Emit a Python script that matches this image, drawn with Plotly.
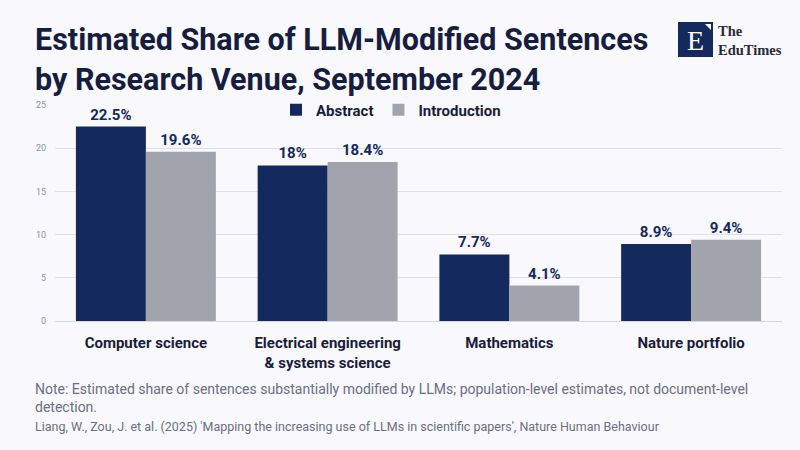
import plotly.graph_objects as go

categories = ["Computer science", "Electrical engineering<br>& systems science", "Mathematics", "Nature portfolio"]
abstract = [22.5, 18.0, 7.7, 8.9]
introduction = [19.6, 18.4, 4.1, 9.4]
y_ticks = [0, 5, 10, 15, 20, 25]

navy = "#142a5e"
grey = "#a2a4ad"
bg = "#f8f8fd"
font_family = "Roboto, Noto Sans, sans-serif"

def px_x(px):
    # screen pixel -> paper x (plot area 55..782)
    return (px - 55) / 727

def px_y(py):
    # screen pixel -> paper y (plot area 105..321)
    return (321 - py) / 216

fig = go.Figure()
fig.add_trace(go.Bar(
    x=categories, y=abstract, name="Abstract",
    marker=dict(color=navy, line=dict(width=0)),
    text=[f"{v:g}%" for v in abstract], textposition="outside",
    textfont=dict(family=font_family, size=15, color=navy, weight="bold"),
    cliponaxis=False,
))
fig.add_trace(go.Bar(
    x=categories, y=introduction, name="Introduction",
    marker=dict(color=grey, line=dict(width=0)),
    text=[f"{v:g}%" for v in introduction], textposition="outside",
    textfont=dict(family=font_family, size=15, color=navy, weight="bold"),
    cliponaxis=False,
))

fig.update_layout(
    width=800, height=450,
    paper_bgcolor=bg, plot_bgcolor=bg,
    margin=dict(l=55, r=18, t=105, b=129),
    barmode="group", bargap=0.23, bargroupgap=0,
    font=dict(family=font_family),
    showlegend=True,
    legend=dict(
        orientation="h", x=px_x(276), y=px_y(110), xanchor="left", yanchor="middle",
        font=dict(family=font_family, size=15, color="#1a1d3a", weight="bold"),
        bgcolor="rgba(0,0,0,0)", itemwidth=30,
    ),
)
fig.update_yaxes(
    range=[0, 25], tickvals=y_ticks, showgrid=True, gridcolor="#dedfe8", gridwidth=1,
    zeroline=True, zerolinecolor="#d6d7e0", zerolinewidth=1,
    tickfont=dict(family=font_family, size=9, color="#8c93ad"), ticks="", ticklabelstandoff=8,
)
fig.update_xaxes(
    tickfont=dict(family=font_family, size=15, color="#1a1d3a", weight="bold"),
    showline=False, ticks="", ticklabelstandoff=11,
)

# title
fig.add_annotation(xref="paper", yref="paper", x=px_x(33), y=px_y(20), xanchor="left", yanchor="top",
                   text="<b>Estimated Share of LLM-Modified Sentences<br>by Research Venue, September 2024</b>",
                   showarrow=False, align="left",
                   font=dict(family=font_family, size=30.5, color="#161d3f"))

# logo
fig.add_shape(type="rect", xref="paper", yref="paper", layer="below",
              x0=px_x(678), x1=px_x(713), y0=px_y(57), y1=px_y(22),
              fillcolor=navy, line=dict(width=0))
fig.add_shape(type="path", xref="paper", yref="paper",
              path=f"M {px_x(705)} {px_y(24)} L {px_x(711)} {px_y(24)} L {px_x(711)} {px_y(30)} Z",
              fillcolor="white", line=dict(width=0))
fig.add_annotation(xref="paper", yref="paper", x=px_x(695), y=px_y(40), xanchor="center", yanchor="middle",
                   text="E", showarrow=False,
                   font=dict(family="Liberation Serif, serif", size=28, color="white"))
fig.add_annotation(xref="paper", yref="paper", x=px_x(716), y=px_y(40), xanchor="left", yanchor="middle",
                   text="<b>The</b><br><b>EduTimes</b>", showarrow=False, align="left",
                   font=dict(family="Liberation Serif, serif", size=14.5, color="#2a2a35"))

# footer
fig.add_annotation(xref="paper", yref="paper", x=px_x(33), y=px_y(379), xanchor="left", yanchor="top",
                   text="Note: Estimated share of sentences substantially modified by LLMs; population-level estimates, not document-level<br>detection.",
                   showarrow=False, align="left",
                   font=dict(family=font_family, size=14, color="#6b6f80"))
fig.add_annotation(xref="paper", yref="paper", x=px_x(33), y=px_y(417), xanchor="left", yanchor="top",
                   text="Liang, W., Zou, J. et al. (2025) 'Mapping the increasing use of LLMs in scientific papers', Nature Human Behaviour",
                   showarrow=False, align="left",
                   font=dict(family=font_family, size=12.5, color="#6b6f80"))

fig.write_html("out.html", config={"displayModeBar": False},
               post_script="document.body.style.margin='0px';document.body.style.background='#f8f8fd';")
